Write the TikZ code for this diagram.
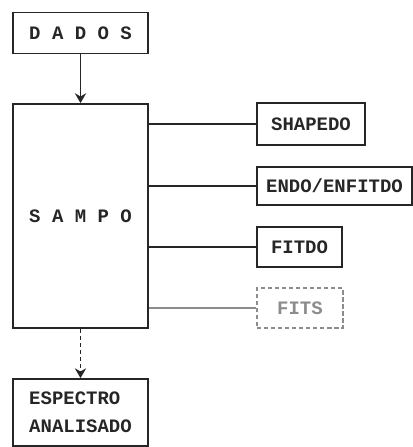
\documentclass[tikz,border=0pt]{standalone}
\usepackage{fontspec}
\setmonofont{Liberation Mono}
\usepackage{tikz}
\usetikzlibrary{positioning,arrows.meta}
\colorlet{inkcolor}{black!85}
\colorlet{fadedink}{black!45}

\begin{document}
\begin{tikzpicture}[x=0.025cm,y=-0.025cm,
    every node/.style={font=\ttfamily\bfseries\fontsize{13.5}{20}\selectfont,text=inkcolor},
    progbox/.style={draw=inkcolor,line width=1.2pt,inner sep=1pt,align=center},
    link/.style={draw=inkcolor,line width=1.1pt}]
        \useasboundingbox (0,0) rectangle (413,447);
        \node[progbox,minimum width=3.375cm,minimum height=1.025cm] (dados) at (80.5,33) {D A D O S};
        \node[progbox,minimum width=3.375cm,minimum height=5.6cm] (sampo) at (80.5,216) {S A M P O};
        \node[progbox,minimum width=2.7cm,minimum height=1.05cm] (shapedo) at (311,124) {SHAPEDO};
        \node[progbox,minimum width=3.875cm,minimum height=0.95cm] (endo) at (334.5,186) {ENDO/ENFITDO};
        \node[progbox,minimum width=2.125cm,minimum height=1cm] (fitdo) at (299.5,247) {FITDO};
        \node[progbox,draw=fadedink,densely dashed,text=fadedink,minimum width=2.15cm,minimum height=1cm] (fits) at (300,308) {FITS};
        \node[progbox,minimum width=3.375cm,minimum height=1.675cm,align=left] (espectro) at (80.5,412.5) {ESPECTRO\\ANALISADO};
        \draw[link,-{Stealth[length=7pt,width=8pt]}] (dados)--(sampo);
        \draw[link,densely dashed,-{Stealth[length=7pt,width=8pt]}] (sampo)--(espectro);
        \draw[link] (sampo.east |- shapedo)--(shapedo.west);
        \draw[link] (sampo.east |- endo)--(endo.west);
        \draw[link] (sampo.east |- fitdo)--(fitdo.west);
        \draw[link,draw=fadedink] (sampo.east |- fits)--(fits.west);
      \end{tikzpicture}
\end{document}
